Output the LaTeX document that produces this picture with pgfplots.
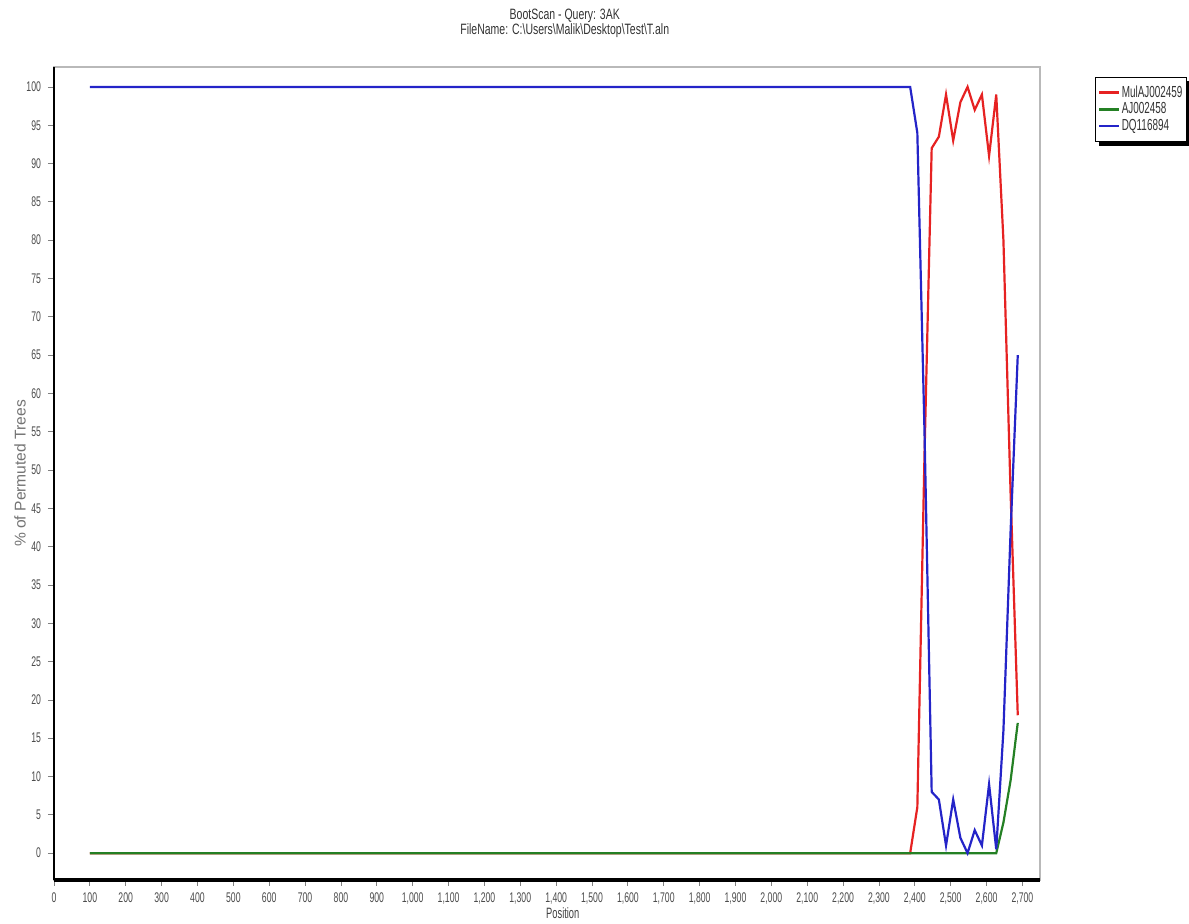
\documentclass[border=0pt]{standalone}
\usepackage{fontspec}
\setmainfont{Liberation Sans}
\newfontfamily\narrowfont{Liberation Sans}[FakeStretch=0.62]
\newfontfamily\titlefont{Liberation Sans}[FakeStretch=0.7]
\usepackage{pgfplots}
\pgfplotsset{compat=1.18}
\definecolor{cred}{RGB}{230,34,34}
\definecolor{cgreen}{RGB}{36,128,36}
\definecolor{cblue}{RGB}{36,36,200}
\begin{document}
\begin{tikzpicture}
\useasboundingbox (-27pt,-22pt) rectangle (567.5pt,440pt);
\begin{axis}[
  scale only axis, width=493pt, height=406.5pt,
  xmin=0, xmax=2749, ymin=-3.5, ymax=102.6,
  clip=false,
  xtick={0,100,...,2700}, ytick={0,5,...,100},
  scaled x ticks=false,
  /pgf/number format/assume math mode=true,
  /pgf/number format/1000 sep={,},
  tick label style={font=\narrowfont\fontsize{7}{8}\selectfont, text=black!70},
  tick align=outside, major tick length=3pt,
  tick style={gray, line width=0.4pt},
  xtick pos=bottom, ytick pos=left,
  axis line style={gray!55, line width=0.6pt},
  xlabel={Position},
  xlabel style={at={(axis description cs:0.516,-0.0406)}, anchor=center, font=\narrowfont\fontsize{7.5}{8}\selectfont, text=black!75},
  ylabel={\% of Permuted Trees},
  ylabel style={at={(axis description cs:-0.0345,0.5)}, anchor=center, font=\fontsize{7.8}{9}\selectfont, text=black!55},
  legend entries={MulAJ002459, AJ002458, DQ116894},
  legend cell align=left,
  legend style={name=leg, at={(1.0558,0.988)}, anchor=north west, draw=black, fill=white,
    font=\narrowfont\fontsize{8}{8}\selectfont, text=black!80,
    inner xsep=1.2pt, inner ysep=3.5pt, row sep=0pt,
    nodes={inner sep=0.7pt, text height=5.8pt, text depth=1.2pt}},
  legend image code/.code={\draw[#1, line width=1.3pt] (0pt,0pt) -- (10pt,0pt);},
]
\addplot[cred, line width=1.1pt] coordinates {
(100,0) (2387,0) (2407,6) (2427,52) (2447,92) (2467,93.5) (2487,99) (2507,93) (2527,98) (2547,100) (2567,97) (2587,99) (2607,91) (2627,99) (2647,80) (2667,47) (2687,18)
};
\addplot[cgreen, line width=1.1pt] coordinates {
(100,0) (2627,0) (2647,4) (2667,9.5) (2687,17)
};
\addplot[cblue, line width=1.1pt] coordinates {
(100,100) (2387,100) (2407,94) (2427,55) (2447,8) (2467,7) (2487,1) (2507,7) (2527,2) (2547,0) (2567,3) (2587,1) (2607,9) (2627,0.5) (2647,16) (2667,42) (2687,65)
};
\draw[black, line width=1.2pt] (rel axis cs:0,1) -- (rel axis cs:0,0);
\draw[black, line width=2pt] (rel axis cs:0,0) -- (rel axis cs:1,0);
\node[anchor=base, font=\titlefont\fontsize{7.5}{8}\selectfont, text=black!80, inner sep=0pt] at (rel axis cs:0.518,1) [yshift=23.5pt] {BootScan - Query: 3AK};
\node[anchor=base, font=\titlefont\fontsize{7.5}{8}\selectfont, text=black!80, inner sep=0pt] at (rel axis cs:0.518,1) [yshift=16pt] {FileName: C:\textbackslash Users\textbackslash Malik\textbackslash Desktop\textbackslash Test\textbackslash T.aln};
\end{axis}
\fill[black] ([yshift=-0.2pt]leg.south west) ++(2pt,0pt) rectangle ([xshift=2.2pt,yshift=-2.2pt]leg.south east);
\fill[black] ([xshift=0.2pt]leg.north east) ++(0pt,-2pt) rectangle ([xshift=2.2pt,yshift=-2.2pt]leg.south east);
\end{tikzpicture}
\end{document}
